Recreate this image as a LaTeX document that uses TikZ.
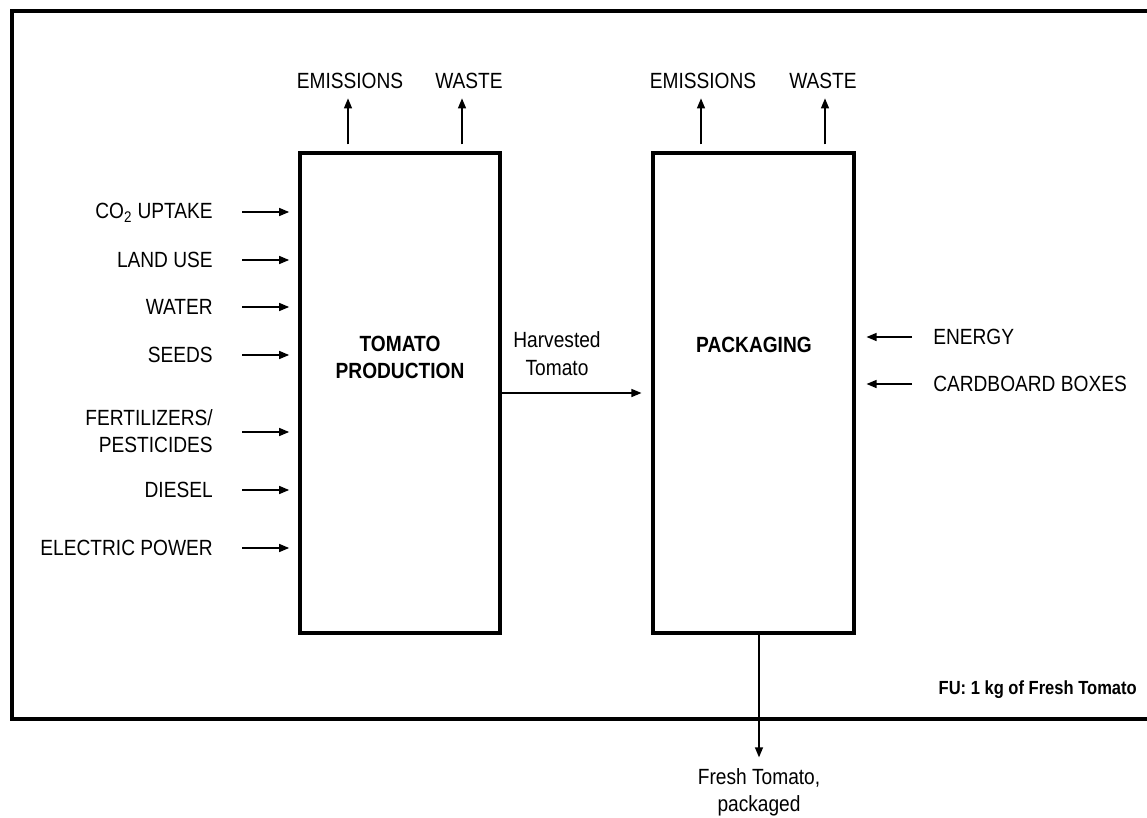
\documentclass[tikz,border=0pt]{standalone}
\usepackage{fontspec}
\setmainfont{Liberation Sans}[FakeStretch=0.87]
\usetikzlibrary{arrows.meta}
\begin{document}
\begin{tikzpicture}[x=0.75pt,y=-0.75pt,
  txt/.style={inner sep=0pt,font=\fontsize{16.5pt}{20.5pt}\selectfont},
  btxt/.style={inner sep=0pt,align=center,font=\fontsize{16.5pt}{20pt}\selectfont\bfseries},
  procbox/.style={draw,line width=2.3pt,minimum width=150pt,minimum height=360pt,inner sep=0pt},
  arr/.style={line width=1pt,-{Triangle[length=7.5pt,width=6pt]}},
  frame/.style={line width=2.3pt}]
\useasboundingbox (0,0) rectangle (1147,818);
% outer frame (right side runs off the page)
\draw[frame] (12,11) rectangle (1160,719);
% process boxes
\node[procbox] (box1) at (400,393) {};
\node[procbox,minimum width=150.75pt] (box2) at (753.5,393) {};
\node[btxt] (t1) at (400,357.5) {TOMATO\\PRODUCTION};
\node[btxt] (t2) at (754,345) {PACKAGING};
% outputs at the top
\node[txt] (em1) at (350,81) {EMISSIONS};
\node[txt] (wa1) at (469,81) {WASTE};
\node[txt] (em2) at (703,81) {EMISSIONS};
\node[txt] (wa2) at (823,81) {WASTE};
\coordinate (xe1) at (348,0);
\coordinate (xw1) at (462,0);
\coordinate (xe2) at (701,0);
\coordinate (xw2) at (825,0);
\draw[arr,shorten <=5.25pt,shorten >=7pt] (box1.north -| xe1) -- (em1.south -| xe1);
\draw[arr,shorten <=5.25pt,shorten >=7pt] (box1.north -| xw1) -- (wa1.south -| xw1);
\draw[arr,shorten <=5.25pt,shorten >=7pt] (box2.north -| xe2) -- (em2.south -| xe2);
\draw[arr,shorten <=5.25pt,shorten >=7pt] (box2.north -| xw2) -- (wa2.south -| xw2);
% inputs on the left
\node[txt,anchor=east] (co2) at (213,213) {CO\textsubscript{2} UPTAKE};
\node[txt,anchor=east] (land) at (213,260) {LAND USE};
\node[txt,anchor=east] (water) at (213,307) {WATER};
\node[txt,anchor=east] (seeds) at (213,355) {SEEDS};
\node[txt,anchor=east,align=right] (fert) at (213,431) {FERTILIZERS/\\PESTICIDES};
\node[txt,anchor=east] (diesel) at (213,490) {DIESEL};
\node[txt,anchor=east] (elec) at (213,548) {ELECTRIC POWER};
\foreach \n/\yy in {co2/212,land/260,water/307,seeds/355,fert/432,diesel/490,elec/548}{
  \coordinate (y\n) at (0,\yy);
  \draw[arr,shorten <=21.75pt,shorten >=7pt] (\n.east |- y\n) -- (box1.west |- y\n);
}
% inputs on the right
\node[txt,anchor=west] (energy) at (933,337) {ENERGY};
\node[txt,anchor=west] (card) at (933,384) {CARDBOARD BOXES};
\draw[arr,shorten <=15.75pt,shorten >=8.25pt] (energy.west) -- (energy.west -| box2.east);
\draw[arr,shorten <=15.75pt,shorten >=8.25pt] (card.west) -- (card.west -| box2.east);
% harvested tomato
\node[txt,align=center] (harv) at (557,353.5) {Harvested\\Tomato};
\draw[arr,shorten >=7.5pt] (box1.east) -- (box2.west);
% final product
\node[txt,align=center,anchor=north] (fresh) at (759,768) {Fresh Tomato,\\packaged};
\coordinate (xf) at (759,0);
\draw[arr,shorten >=8pt] (box2.south -| xf) -- (fresh.north -| xf);
% functional unit
\node[inner sep=0pt,anchor=east,font=\fontsize{14.25pt}{17pt}\selectfont\bfseries] (fu) at (1137,690) {FU: 1 kg of Fresh Tomato};
\end{tikzpicture}
\end{document}
